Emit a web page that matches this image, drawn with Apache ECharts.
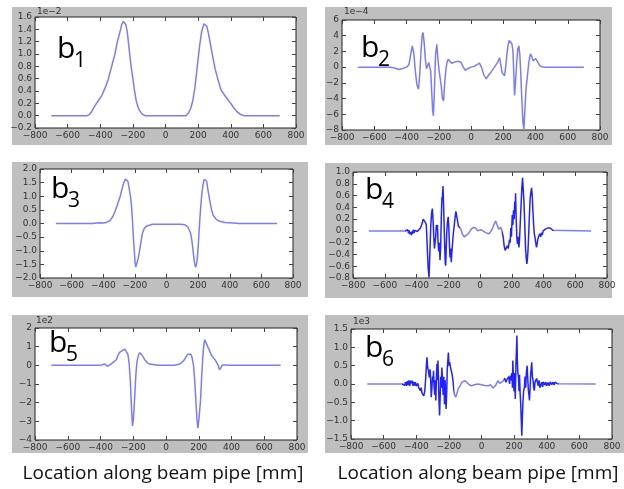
<!DOCTYPE html>
<html>
<head>
<meta charset="utf-8">
<script src="https://cdn.jsdelivr.net/npm/echarts@6/dist/echarts.min.js"></script>
<style>html,body{margin:0;padding:0;background:#fff;}#c{width:624px;height:489px;}</style>
</head>
<body>
<div id="c"></div>
<script>
// ---- data (x in mm, y in units of the panel's offset factor) ----
const b1X = [-700,-480,-465,-450,-430,-410,-390,-370,-350,-330,-310,-295,-280,-268,-258,-250,-242,-234,-222,-212,-200,-191,-180,-170,-160,-145,-125,125,140,155,168,180,190,200,210,222,236,245,253,262,275,290,305,320,340,360,380,400,420,440,460,480,700];
const b1Y = [0,0,0.02,0.08,0.17,0.25,0.33,0.45,0.6,0.8,1.0,1.2,1.35,1.48,1.53,1.52,1.47,1.35,1.06,0.82,0.6,0.42,0.25,0.15,0.09,0.03,0,0,0.04,0.12,0.25,0.45,0.68,0.92,1.15,1.37,1.49,1.5,1.45,1.35,1.17,0.95,0.75,0.6,0.42,0.34,0.27,0.2,0.12,0.06,0.02,0,0];

const b2X = [-700,-500,-470,-447,-420,-400,-385,-375,-364,-355,-345,-336,-326,-318,-310,-303,-297,-290,-283,-276,-270,-262,-256,-250,-244,-238,-233,-227,-220,-212,-205,-198,-191,-184,-177,-170,-163,-155,-148,-141,-130,-120,-110,-95,-80,-62,-48,-35,-20,0,20,35,52,65,80,94,110,125,135,145,152,165,177,185,193,200,208,215,222,229,237,245,253,260,265,270,276,283,290,297,303,308,315,322,328,334,341,349,358,368,376,385,393,401,412,426,440,457,700];
const b2Y = [0,0,-0.15,-0.3,-0.15,0,0.3,1.5,2.7,1.8,-0.5,-2.2,-2.8,-1,2,4,4.4,3,1,-0.2,-0.2,0.6,0.7,-0.5,-3,-5.5,-6.2,-3,1.5,2.9,1,-0.4,-0.6,-2.5,-4,-4.3,-2,-0.2,0.7,1,0.8,0.5,0.5,0.7,0.75,0.6,0,-0.4,-0.2,0,0.1,0.3,0.5,0,-1,-1.5,-1,-0.6,-0.5,0,0.2,0.6,1.2,0.3,-0.7,-0.8,-1.1,0,1.5,2.7,3.4,3.5,3,2.1,-0.5,-3.6,-2,0.5,2.3,2.7,1.5,-0.5,-4,-7,-7.9,-5.5,-2.8,-1.3,0.5,1.7,1.4,0.8,0.9,1.1,0.7,0.2,0.05,0,0];

const b3X = [-700,-470,-440,-420,-400,-380,-358,-340,-325,-310,-295,-284,-270,-260,-252,-244,-236,-228,-222,-216,-211,-205,-199,-194,-188,-180,-173,-165,-158,-152,-140,-128,-116,-90,90,116,135,152,160,168,176,183,190,196,202,208,215,222,230,238,246,254,263,275,285,295,315,337,370,421,460,700];
const b3Y = [0,0,0.02,0.03,0.02,0.04,0.1,0.25,0.45,0.7,0.95,1.2,1.5,1.63,1.65,1.55,1.3,1.0,0.7,0.2,-0.35,-0.9,-1.4,-1.6,-1.55,-1.3,-1.1,-0.8,-0.55,-0.35,-0.18,-0.1,-0.05,-0.03,-0.03,-0.05,-0.12,-0.35,-0.6,-1.0,-1.4,-1.6,-1.5,-1.2,-0.7,-0.1,0.5,1.0,1.4,1.62,1.65,1.55,1.2,0.8,0.5,0.3,0.15,0.08,0.04,0.02,0,0];

const b4X = [-700,-470,-462,-455,-450,-446,-440,-436,-432,-428,-424,-420,-415,-410,-405,-400,-395,-390,-384,-375,-365,-358,-352,-345,-338,-332,-326,-321,-316,-310,-305,-300,-296,-291,-287,-283,-279,-275,-272,-268,-264,-260,-256,-252,-248,-244,-240,-236,-233,-230,-226,-222,-219,-216,-213,-209,-205,-200,-197,-193,-189,-185,-181,-178,-174,-170,-164,-158,-152,-147,-143,-136,-128,-122,-110,-100,-90,-75,-55,-40,-27,-15,-6,5,19,35,57,75,90,99,108,118,124,132,140,146,152,158,163,168,173,178,182,186,190,194,198,203,207,211,215,219,222,224,228,232,236,241,245,249,253,258,263,268,272,277,282,287,291,295,298,302,306,311,316,320,325,329,334,338,342,346,351,356,361,366,371,376,382,388,392,398,405,412,420,428,434,442,450,458,465,700];
const b4Y = [0,0,-0.02,0.02,-0.04,0.01,-0.06,-0.02,-0.07,-0.01,-0.05,0.02,-0.03,0.01,-0.02,0.02,-0.01,0,0.01,0.05,0.12,0.2,0.21,0.15,0.1,-0.3,-0.65,-0.79,-0.4,0.1,0.3,0.38,0.2,-0.1,-0.3,-0.33,-0.1,0.1,0.05,0.1,-0.2,-0.35,-0.2,-0.5,-0.3,0.2,0.55,0.6,0.76,0.5,0.1,-0.3,-0.55,-0.59,-0.3,0,0.15,0.24,0.1,-0.2,-0.45,-0.3,-0.53,-0.4,-0.25,-0.1,0.05,0.2,0.33,0.3,0.2,0.08,0.05,0.04,-0.06,-0.1,-0.11,-0.05,0.03,0.06,0.05,0,-0.02,0.02,0,-0.03,-0.05,0.02,0.12,0.17,0.1,0.03,0.04,0.06,0.05,-0.1,-0.25,-0.33,-0.3,-0.33,-0.25,-0.3,-0.28,-0.15,-0.2,0.05,-0.1,0.27,0.1,0.35,0.2,0.5,0.3,0.64,0.2,-0.1,-0.22,-0.1,-0.28,-0.15,0.1,0.4,0.7,0.9,0.88,0.5,0.1,-0.3,-0.45,-0.56,-0.5,-0.35,-0.1,0.25,0.55,0.65,0.73,0.6,0.3,0.1,-0.05,-0.1,-0.2,-0.28,-0.2,-0.12,-0.15,-0.05,-0.1,-0.03,-0.07,0,0.02,0.03,0.04,0.05,0.04,0.05,0.02,0.01,0,0];

const b5X = [-700,-420,-390,-375,-368,-358,-347,-338,-330,-323,-315,-303,-295,-285,-275,-265,-258,-252,-245,-240,-233,-225,-218,-211,-205,-199,-191,-184,-177,-168,-160,-152,-143,-130,-115,-100,-89,-50,50,80,93,110,124,135,144,152,160,168,175,182,189,195,202,211,218,225,231,236,242,250,256,265,276,290,302,308,317,327,336,345,353,365,388,700];
const b5Y = [0,0,0.02,0.08,0.06,-0.05,-0.11,0.05,0.1,0.16,0.2,0.3,0.5,0.68,0.78,0.8,0.85,0.87,0.9,0.84,0.6,0.1,-0.8,-2.2,-3.25,-2.9,-1.67,-0.5,0.21,0.55,0.68,0.65,0.5,0.3,0.15,0.07,0.03,0,0,0.06,0.12,0.27,0.48,0.6,0.66,0.6,0.39,0,-0.78,-1.8,-2.9,-3.37,-2.8,-1.85,-0.6,0.48,1.1,1.38,1.3,1.1,1.05,0.8,0.57,0.4,0.27,0.3,0.03,-0.24,-0.15,0.02,0.07,0.02,0,0];

const b6X = [-700,-486,-478,-472,-466,-460,-455,-450,-445,-440,-435,-430,-425,-420,-415,-410,-405,-400,-395,-390,-385,-380,-375,-370,-365,-360,-354,-348,-343,-338,-334,-330,-325,-320,-315,-311,-308,-304,-300,-297,-294,-290,-286,-283,-280,-276,-273,-270,-267,-264,-261,-257,-253,-250,-246,-243,-239,-235,-231,-227,-223,-220,-217,-213,-210,-207,-203,-199,-195,-190,-186,-182,-178,-174,-170,-165,-158,-150,-142,-132,-120,-110,-101,-90,-75,-61,-45,-20,0,20,41,55,71,85,101,112,122,132,142,150,156,162,167,172,177,182,186,190,192,196,200,204,207,211,214,217,220,223,227,230,233,237,240,244,247,250,254,258,263,267,271,275,280,284,288,291,294,298,302,305,308,312,316,320,324,328,333,338,344,348,353,358,365,370,375,380,385,390,395,400,408,415,422,430,438,445,450,456,465,476,700];
const b6Y = [0,0,0.03,-0.04,0.05,-0.05,0.08,-0.03,0.1,-0.06,0.09,0.02,0.09,-0.05,0.06,-0.04,0.05,-0.06,-0.09,0.02,-0.1,-0.05,-0.18,-0.1,-0.25,-0.2,-0.32,-0.2,0.1,0.5,0.73,0.45,0.35,0.18,0.4,0.05,-0.36,-0.1,0.2,0.05,0.36,-0.1,-0.3,0.1,-0.45,0.2,0.55,0.1,0.64,0.2,-0.4,-0.86,-0.3,0.2,-0.1,0.45,0.1,-0.3,0.2,-0.55,0.1,-0.4,-0.68,-0.2,0.4,0.6,0.86,0.5,0.6,0.45,0.5,0.3,0.2,0.05,-0.15,-0.3,-0.36,-0.25,-0.12,-0.05,0.05,0.08,0.09,0.05,-0.02,-0.05,-0.02,0,-0.02,-0.04,-0.05,-0.02,-0.11,-0.05,0.09,0.02,-0.03,0.08,0.16,0.05,0.12,0.09,0.2,0,0.23,0.1,0.3,-0.1,0.64,0.1,-0.2,0.3,-0.41,0.5,0.9,1.32,0.6,0.3,0.18,-0.2,0.25,-0.27,-0.5,-1.0,-1.41,-1.0,-0.5,-0.2,-0.09,0.2,-0.1,0.3,0.5,0.1,-0.2,-0.3,-0.45,-0.1,0.3,0.45,0.59,0.2,0.1,-0.1,-0.18,0.05,0.1,0.15,0.18,-0.05,0.1,-0.1,-0.14,0.05,-0.08,0.06,0.09,-0.03,0.05,-0.05,0.04,-0.05,0.06,-0.02,0.05,-0.03,0.05,0.02,0.01,0,0];

const panelNames = ['1','2','3','4','5','6'];
const offsetTexts = ['1e\u22122','1e\u22124','','','1e2','1e3'];
const yMins = [-0.2,-8,-2,-0.8,-4,-1.5];
const yMaxs = [1.6,6,2,1.0,2,1.5];
const yIntervals = [0.2,2,0.5,0.2,1,0.5];
const yDecimals = [1,0,1,1,0,1];
const xTicks = [-800,-600,-400,-200,0,200,400,600,800];
const xLabel = 'Location along beam pipe [mm]';

// ---- layout ----
const grids = [
  {left:35, top:17, width:261, height:111},
  {left:342, top:20, width:258, height:110},
  {left:40, top:169, width:253, height:109},
  {left:353, top:172, width:254, height:106},
  {left:35, top:328, width:262, height:112},
  {left:351, top:329, width:261, height:110}
];
const grayRects = [
  [12,7,295,138],[325,7,287,138],[12,162,296,135],[325,163,287,135],[12,315,296,138],[325,315,299,138]
];
const bPos = [[57,49],[361,48],[51,189],[365,190],[49,343],[365,348]];
const offPos = [[37,12],[344,12],null,null,[36,321],[353,322]];
const xsAll = [b1X,b2X,b3X,b4X,b5X,b6X];
const ysAll = [b1Y,b2Y,b3Y,b4Y,b5Y,b6Y];
const densePanels = [3,5];

const minus = s => String(s).replace('-', '\u2212');
const LIGHT = '#7b7bff', DARK = '#2222ff';
const labelFont = {fontFamily:'DejaVu Sans', fontSize:9, color:'#333'};

const option = {animation:false, grid:[], xAxis:[], yAxis:[], series:[], graphic:[], visualMap:[]};

grayRects.forEach(r => option.graphic.push({type:'rect', z:-10, shape:{x:r[0],y:r[1],width:r[2],height:r[3]}, style:{fill:'#bfbfbf'}}));

grids.forEach((g, i) => {
  option.grid.push(Object.assign({show:true, backgroundColor:'#fff', borderColor:'#222', borderWidth:1, containLabel:false}, g));
  const tick = {show:true, inside:true, length:4, lineStyle:{color:'#444', width:1}};
  const line = {show:false, onZero:false};
  option.xAxis.push({type:'value', gridIndex:i, min:-800, max:800, interval:200, position:'bottom',
    axisLine:line, axisTick:tick, splitLine:{show:false},
    axisLabel:Object.assign({margin:3, formatter: v => minus(v)}, labelFont)});
  option.xAxis.push({type:'value', gridIndex:i, min:-800, max:800, interval:200, position:'top',
    axisLine:line, axisTick:tick, splitLine:{show:false}, axisLabel:{show:false}});
  option.yAxis.push({type:'value', gridIndex:i, min:yMins[i], max:yMaxs[i], interval:yIntervals[i], position:'left',
    axisLine:line, axisTick:tick, splitLine:{show:false},
    axisLabel:Object.assign({margin:3, formatter: v => minus(Number(v).toFixed(yDecimals[i]))}, labelFont)});
  option.yAxis.push({type:'value', gridIndex:i, min:yMins[i], max:yMaxs[i], interval:yIntervals[i], position:'right',
    axisLine:line, axisTick:tick, splitLine:{show:false}, axisLabel:{show:false}});
  const dense = densePanels.indexOf(i) >= 0;
  const s = {type:'line', xAxisIndex:2*i, yAxisIndex:2*i, showSymbol:false, symbol:'none',
    data: xsAll[i].map((x, k) => [x, ysAll[i][k]]),
    lineStyle: dense ? {width:1.5} : {color:LIGHT, width:1.5}, z:5};
  if (!dense) s.itemStyle = {color:LIGHT};
  option.series.push(s);
  // panel label b_n
  option.graphic.push({type:'text', z:20, style:{text:'b', x:bPos[i][0], y:bPos[i][1], font:'30px "Open Sans"', fill:'#000', textVerticalAlign:'middle'}});
  option.graphic.push({type:'text', z:20, style:{text:panelNames[i], x:bPos[i][0]+17, y:bPos[i][1]+12, font:'21px "Open Sans"', fill:'#000', textVerticalAlign:'middle'}});
  if (offPos[i]) option.graphic.push({type:'text', z:20, style:{text:offsetTexts[i], x:offPos[i][0], y:offPos[i][1], font:'9px "DejaVu Sans"', fill:'#333', textVerticalAlign:'middle'}});
});

// dense, noisy stretches of b4 and b6 look darker
option.visualMap.push({show:false, type:'piecewise', seriesIndex:3, dimension:0,
  pieces:[{lt:-470,color:LIGHT},{gte:-470,lt:-125,color:DARK},{gte:-125,lt:140,color:LIGHT},{gte:140,lt:465,color:DARK},{gte:465,color:LIGHT}]});
option.visualMap.push({show:false, type:'piecewise', seriesIndex:5, dimension:0,
  pieces:[{lt:-486,color:LIGHT},{gte:-486,lt:-170,color:DARK},{gte:-170,lt:140,color:LIGHT},{gte:140,lt:476,color:DARK},{gte:476,color:LIGHT}]});

option.graphic.push({type:'text', style:{text:xLabel, x:163, y:474, font:'19px "Open Sans"', fill:'#111', textAlign:'center', textVerticalAlign:'middle'}});
option.graphic.push({type:'text', style:{text:xLabel, x:478, y:474, font:'19px "Open Sans"', fill:'#111', textAlign:'center', textVerticalAlign:'middle'}});

const chart = echarts.init(document.getElementById('c'), null, {renderer:'canvas'});
chart.setOption(option);
</script>
</body>
</html>
